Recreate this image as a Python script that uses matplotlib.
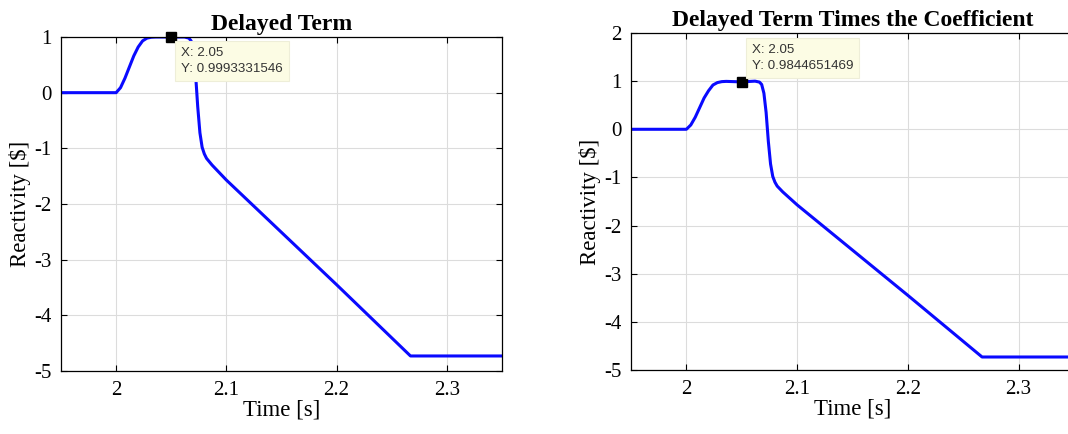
import matplotlib
matplotlib.use("Agg")
import matplotlib.pyplot as plt

# time points [s]
t = [1.95, 2.0, 2.004, 2.008, 2.012, 2.016, 2.02, 2.024, 2.028, 2.032, 2.036,
     2.05, 2.062, 2.066, 2.068, 2.07, 2.072, 2.074, 2.076, 2.078, 2.08, 2.082,
     2.087, 2.1, 2.2, 2.267, 2.35]

# delayed term [$]
rho_delayed = [0.0, 0.0, 0.09, 0.26, 0.46, 0.66, 0.82, 0.93, 0.98, 0.996, 1.0,
               0.9993, 1.0, 0.98, 0.93, 0.75, 0.35, -0.25, -0.72, -0.98, -1.1, -1.18,
               -1.3, -1.57, -3.45, -4.73, -4.73]

# delayed term times the coefficient [$]
rho_coef = [0.0, 0.0, 0.09, 0.25, 0.45, 0.65, 0.80, 0.92, 0.97, 0.99, 0.995,
            0.9845, 1.0, 0.98, 0.93, 0.75, 0.35, -0.25, -0.72, -0.98, -1.1, -1.18,
            -1.3, -1.57, -3.45, -4.73, -4.73]

tip_x = 2.05
tip_y = [0.9993331546, 0.9844651469]

xticks = [2.0, 2.1, 2.2, 2.3]
xticklabels = ["2", "2.1", "2.2", "2.3"]

W, H = 1068, 434
fig = plt.figure(figsize=(W / 100, H / 100), dpi=100)

serif = ["Liberation Serif", "DejaVu Serif"]
sans = ["Liberation Sans", "DejaVu Sans"]


def style(ax, ylim, yticks):
    ax.set_xlim(1.95, 2.35)
    ax.set_ylim(*ylim)
    ax.set_xticks(xticks)
    ax.set_xticklabels(xticklabels)
    ax.set_yticks(yticks)
    ax.set_yticklabels([str(v) for v in yticks])
    ax.grid(True, color="#dcdcdc", linewidth=0.8)
    ax.set_axisbelow(True)
    ax.tick_params(direction="in", top=True, right=True, length=4,
                   labelsize=15, pad=7, width=0.8)
    for lab in ax.get_xticklabels() + ax.get_yticklabels():
        lab.set_family(serif)
    for s in ax.spines.values():
        s.set_linewidth(0.9)
    ax.set_xlabel("Time [s]", family=serif, fontsize=16.5, labelpad=0)
    ax.set_ylabel("Reactivity [$]", family=serif, fontsize=16.5, labelpad=2)


def datatip(ax, y, dy, va):
    ax.plot([tip_x], [y], marker="s", color="black", markersize=7, zorder=5,
            clip_on=False)
    ax.annotate("X: 2.05\nY: %.10f" % y, xy=(tip_x, y), xytext=(10, dy),
                textcoords="offset pixels", ha="left", va=va,
                family=sans, fontsize=9.6, color="#333333", linespacing=1.45,
                annotation_clip=False, zorder=6,
                bbox=dict(boxstyle="square,pad=0.45", fc="#fcfce4",
                          ec="#eeeed8", lw=0.8))


ax1 = fig.add_axes([61 / W, 1 - 371 / H, 441 / W, 334 / H])
ax1.plot(t, rho_delayed, color="#0a0aff", linewidth=2.2)
style(ax1, (-5, 1), [1, 0, -1, -2, -3, -4, -5])
ax1.set_title("Delayed Term", family=serif, fontsize=17, fontweight="bold",
              pad=5)
datatip(ax1, tip_y[0], -10, "top")

ax2 = fig.add_axes([631 / W, 1 - 370 / H, 443 / W, 337 / H])
ax2.plot(t, rho_coef, color="#0a0aff", linewidth=2.2)
style(ax2, (-5, 2), [2, 1, 0, -1, -2, -3, -4, -5])
ax2.set_title("Delayed Term Times the Coefficient", family=serif,
              fontsize=17, fontweight="bold", pad=5)
datatip(ax2, tip_y[1], 10, "bottom")

fig.savefig("out.png", dpi=100)
